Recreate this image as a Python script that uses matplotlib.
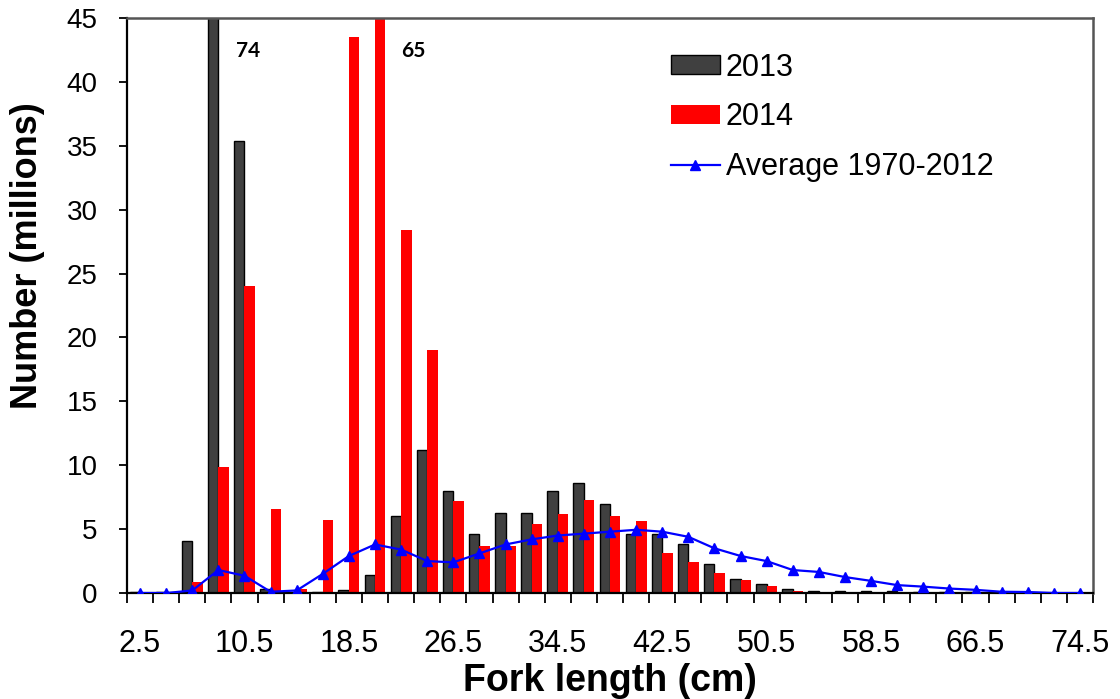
import numpy as np
import matplotlib
matplotlib.use("Agg")
import matplotlib.pyplot as plt
from matplotlib.ticker import FixedLocator, NullFormatter

plt.rcParams['font.family'] = ['Liberation Sans', 'DejaVu Sans']

# Fork-length classes (cm)
lengths = [2.5, 4.5, 6.5, 8.5, 10.5, 12.5, 14.5, 16.5, 18.5, 20.5, 22.5, 24.5,
           26.5, 28.5, 30.5, 32.5, 34.5, 36.5, 38.5, 40.5, 42.5, 44.5, 46.5, 48.5,
           50.5, 52.5, 54.5, 56.5, 58.5, 60.5, 62.5, 64.5, 66.5, 68.5, 70.5, 72.5, 74.5]

# Numbers at length (millions)
n_2013 = [0.05, 0.1, 4.1, 74, 35.4, 0.3, 0.05, 0.1, 0.2, 1.4, 6.0, 11.2,
          8.0, 4.6, 6.3, 6.3, 8.0, 8.6, 7.0, 4.6, 4.6, 3.85, 2.3, 1.1,
          0.7, 0.3, 0.12, 0.12, 0.12, 0.12, 0.1, 0.1, 0.05, 0.03, 0.02, 0.01, 0.0]
n_2014 = [0.0, 0.0, 0.86, 9.9, 24.0, 6.6, 0.3, 5.7, 43.5, 65, 28.4, 19.0,
          7.2, 3.7, 3.7, 5.4, 6.2, 7.3, 6.0, 5.6, 3.15, 2.45, 1.6, 1.0,
          0.56, 0.15, 0.03, 0.02, 0.02, 0.02, 0.01, 0.01, 0.0, 0.0, 0.0, 0.0, 0.0]
n_avg = [0.0, 0.0, 0.2, 1.8, 1.35, 0.1, 0.2, 1.5, 2.9, 3.8, 3.4, 2.5,
         2.4, 3.1, 3.8, 4.2, 4.5, 4.65, 4.8, 4.95, 4.8, 4.4, 3.5, 2.9,
         2.5, 1.8, 1.65, 1.25, 0.95, 0.62, 0.5, 0.35, 0.25, 0.1, 0.08, 0.0, 0.0]

YMAX = 45

fig = plt.figure(figsize=(11.2, 6.99), dpi=100)
ax = fig.add_axes([0.1134, 0.1516, 0.8625, 0.8226])

x = np.arange(len(lengths))
w = 0.4
b13 = ax.bar(x - w / 2, n_2013, width=w, color='#404040', edgecolor='black',
             linewidth=1.0, label='2013', zorder=2)
b14 = ax.bar(x + w / 2, n_2014, width=w, color='#ff0000', edgecolor='none',
             label='2014', zorder=2)
ln, = ax.plot(x, n_avg, color='#0000ff', linewidth=1.6, marker='^', markersize=7,
              markerfacecolor='#0000ff', markeredgecolor='#0000ff',
              label='Average 1970-2012', zorder=3)

# Values of the bars that run past the top of the axis
for xi, vals, off in ((x - w / 2, n_2013, 1.35), (x + w / 2, n_2014, 1.25)):
    for xx, v in zip(xi, vals):
        if v > YMAX:
            ax.text(xx + off, 42.4, f"{v:g}", ha='center', va='center',
                    fontsize=15, fontweight='bold', family=['Lato', 'DejaVu Sans'])

ax.set_xlim(-0.5, len(lengths) - 0.5)
ax.set_ylim(0, YMAX)

# Category labels every 8 cm, tick marks between classes
ax.xaxis.set_major_locator(FixedLocator(x[::4]))
ax.set_xticklabels([f"{v:g}" for v in lengths[::4]])
ax.xaxis.set_minor_locator(FixedLocator(np.arange(-0.5, len(lengths), 1.0)))
ax.xaxis.set_minor_formatter(NullFormatter())
ax.tick_params(axis='x', which='major', length=0, pad=26, labelsize=22)
ax.tick_params(axis='x', which='minor', length=7, width=1.3, direction='out')

ax.set_yticks(np.arange(0, YMAX + 1, 5))
ax.tick_params(axis='y', length=6, width=1.3, direction='out', pad=15, labelsize=20)

for side in ('left', 'bottom'):
    ax.spines[side].set_color('black')
    ax.spines[side].set_linewidth(1.6)
for side in ('top', 'right'):
    ax.spines[side].set_color('#555555')
    ax.spines[side].set_linewidth(1.8)

ax.set_xlabel('Fork length (cm)', fontsize=27, fontweight='bold')
ax.xaxis.set_label_coords(0.5, -0.122)
ax.xaxis.label.set_va('top')
ax.set_ylabel('Number (millions)', fontsize=26, fontweight='bold')
ax.yaxis.set_label_coords(-0.103, 0.586)
ax.yaxis.label.set_va('center')

leg = ax.legend(handles=[b13, b14, ln], loc='upper left', bbox_to_anchor=(0.563, 0.94),
                frameon=False, fontsize=22, handlelength=1.6, handleheight=0.6,
                handletextpad=0.2, labelspacing=0.65, borderaxespad=0, borderpad=0)

fig.savefig('out.png', dpi=100)
